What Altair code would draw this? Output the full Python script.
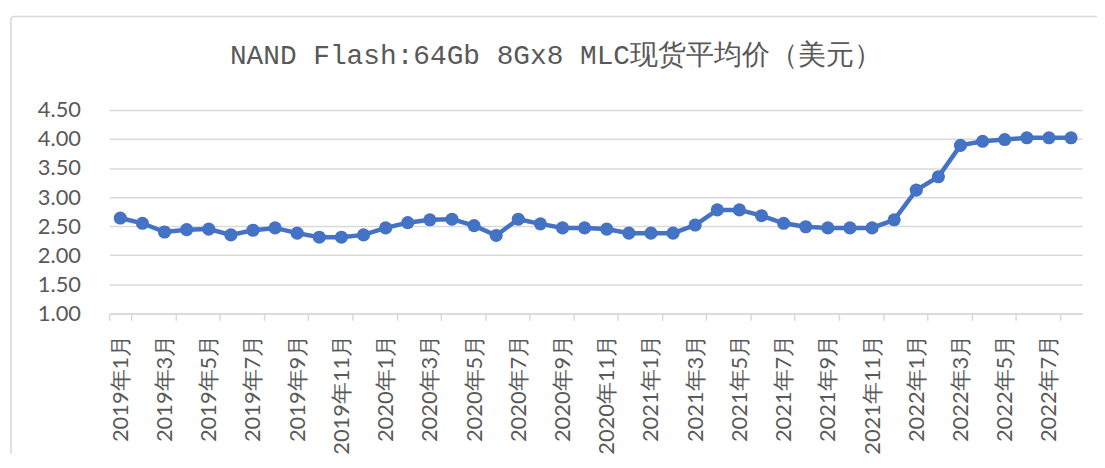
import altair as alt
import pandas as pd

title_text = "NAND Flash:64Gb 8Gx8 MLC现货平均价（美元）"
years = [2019, 2020, 2021, 2022]
months = [f"{y}年{m}月" for y in years for m in range(1, 13)][:44]
prices = [
    2.64, 2.55, 2.40, 2.44, 2.45, 2.35, 2.43, 2.47, 2.38, 2.31, 2.31, 2.35,
    2.47, 2.56, 2.61, 2.62, 2.51, 2.34, 2.62, 2.54, 2.47, 2.47, 2.45, 2.38,
    2.38, 2.38, 2.52, 2.78, 2.78, 2.68, 2.55, 2.49, 2.47, 2.47, 2.47, 2.61,
    3.12, 3.35, 3.89, 3.96, 3.99, 4.02, 4.02, 4.02,
]
y_ticks = [1.0, 1.5, 2.0, 2.5, 3.0, 3.5, 4.0, 4.5]
label_months = months[::2]

df = pd.DataFrame({"month": months, "price": prices})

LABEL_FONT = "Lato"
GRAY = "#595959"
LIGHT = "#d9d9d9"
BLUE = "#4472C4"

x_enc = alt.X(
    "month:N",
    sort=months,
    scale=alt.Scale(type="band", paddingInner=0, paddingOuter=0),
    axis=alt.Axis(
        title=None,
        values=label_months,
        labelAngle=-90,
        labelFont=LABEL_FONT,
        labelFontSize=22,
        labelColor=GRAY,
        labelPadding=14,
        tickBand="extent",
        tickColor=LIGHT,
        tickWidth=1.5,
        tickSize=7,
        domainColor=LIGHT,
        domainWidth=1.5,
        grid=False,
        labelOverlap=False,
    ),
)
y_enc = alt.Y(
    "price:Q",
    scale=alt.Scale(domain=[1.0, 4.5], nice=False, zero=False),
    axis=alt.Axis(
        title=None,
        values=y_ticks,
        format=".2f",
        labelFont=LABEL_FONT,
        labelFontSize=22,
        labelColor=GRAY,
        labelPadding=29,
        labelOverlap=False,
        labelBound=False,
        ticks=False,
        domain=False,
        grid=True,
        gridColor=LIGHT,
        gridWidth=1.5,
    ),
)

base = alt.Chart(df)
line = base.mark_line(color=BLUE, strokeWidth=4.5).encode(x=x_enc, y=y_enc)
pts = base.mark_point(filled=True, shape="circle", size=175, color=BLUE, opacity=1).encode(
    x=x_enc, y=y_enc
)

deco = alt.Chart(alt.Data(values=[{"t": title_text}]))
border = deco.mark_rect(
    fillOpacity=0, stroke=LIGHT, strokeWidth=1.5, cornerRadius=3
).encode(
    x=alt.value(-99), x2=alt.value(1010), y=alt.value(-94), y2=alt.value(400)
)
title = deco.mark_text(
    font="Liberation Mono",
    fontSize=28,
    color=GRAY,
    align="center",
    baseline="alphabetic",
).encode(text="t:N", x=alt.value(450), y=alt.value(-46))

chart = (
    alt.layer(border, title, line, pts)
    .properties(
        width=980,
        height=205,
        autosize=alt.AutoSizeParams(type="none"),
        padding={"left": 102, "top": 101, "right": 15, "bottom": 140},
    )
    .configure_view(stroke=None)
)

chart.save("out.html", embed_options={"renderer": "svg", "actions": False})
